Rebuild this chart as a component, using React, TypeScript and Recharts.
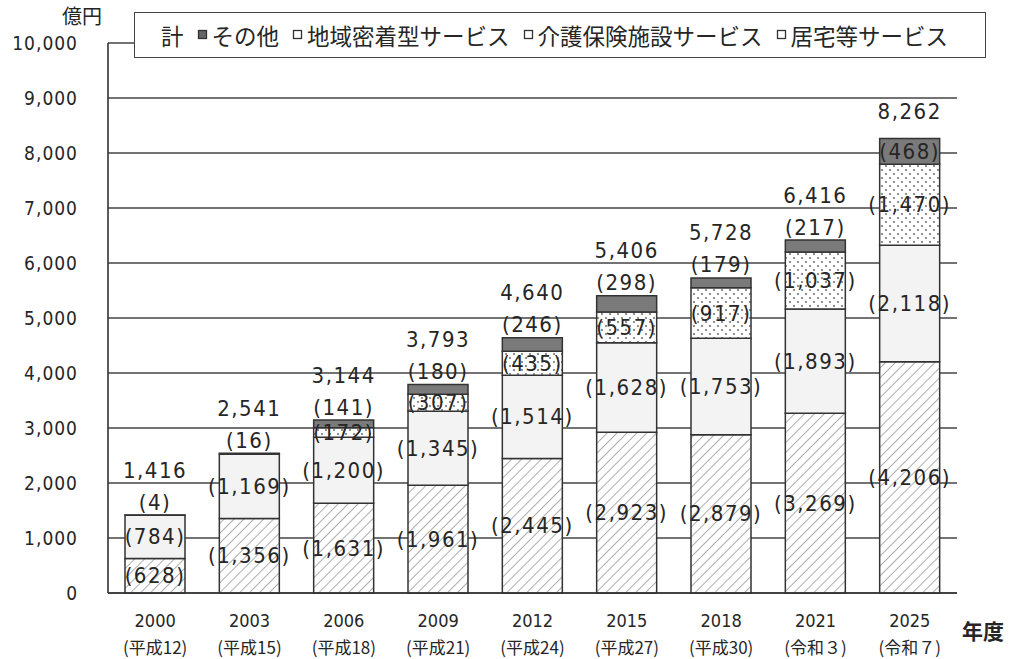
import { BarChart, Bar, XAxis, YAxis, CartesianGrid, LabelList } from "recharts";

const years = ["2000", "2003", "2006", "2009", "2012", "2015", "2018", "2021", "2025"];
const eras = ["(平成12)", "(平成15)", "(平成18)", "(平成21)", "(平成24)", "(平成27)", "(平成30)", "(令和３)", "(令和７)"];
const kyotaku = [628, 1356, 1631, 1961, 2445, 2923, 2879, 3269, 4206];
const shisetsu = [784, 1169, 1200, 1345, 1514, 1628, 1753, 1893, 2118];
const chiiki = [0, 0, 172, 307, 435, 557, 917, 1037, 1470];
const sonota = [4, 16, 141, 180, 246, 298, 179, 217, 468];
const totals = [1416, 2541, 3144, 3793, 4640, 5406, 5728, 6416, 8262];
const yTicks = [0, 1000, 2000, 3000, 4000, 5000, 6000, 7000, 8000, 9000, 10000];
const legendItems = ["その他", "地域密着型サービス", "介護保険施設サービス", "居宅等サービス"];
const legendFills = ["#666", "#fff", "#fff", "#fff"];

const data = years.map((y, i) => ({
  year: y,
  kyotaku: kyotaku[i],
  shisetsu: shisetsu[i],
  chiiki: chiiki[i],
  sonota: sonota[i],
}));

const numFont = '"DejaVu Sans Condensed", "Liberation Sans Narrow", "DejaVu Sans", sans-serif';
const jpFont = '"Noto Sans CJK JP", sans-serif';
const ink = "#262626";

const fmt = (v: number) => v.toLocaleString("en-US");

function CenterLabel(props: any) {
  const { x, y, width, height, value } = props;
  if (!value) return null;
  return (
    <text
      x={x + width / 2}
      y={y + height / 2}
      textAnchor="middle"
      dominantBaseline="central"
      fontFamily={numFont}
      fontSize={22}
      letterSpacing={1.5}
      fill={ink}
    >
      ({fmt(value)})
    </text>
  );
}

// その他 label sits above the bar when the segment is thin, total goes above that
function TopLabel(props: any) {
  const { x, y, width, height, value, index } = props;
  const inside = value > 400;
  const ly = inside ? y + height / 2 : y - 13;
  const ty = inside ? y - 27 : y - 45;
  return (
    <g fontFamily={numFont} fontSize={22} letterSpacing={1.5} fill={ink} textAnchor="middle">
      <text x={x + width / 2} y={ly} dominantBaseline="central">
        ({fmt(value)})
      </text>
      <text x={x + width / 2} y={ty} dominantBaseline="central">
        {fmt(totals[index])}
      </text>
    </g>
  );
}

function YearTick(props: any) {
  const { x, y, payload, index } = props;
  return (
    <g fill={ink} textAnchor="middle">
      <text x={x} y={y + 19} dominantBaseline="central" fontFamily={numFont} fontSize={18}>
        {payload.value}
      </text>
      <text x={x} y={y + 45} dominantBaseline="central" fontFamily={jpFont} fontSize={17}>
        {eras[index]}
      </text>
    </g>
  );
}

function LegendBox() {
  return (
    <div
      style={{
        position: "absolute",
        left: 134,
        top: 12,
        boxSizing: "border-box",
        width: 852,
        height: 46,
        border: "1.5px solid #444",
        background: "#fff",
        display: "flex",
        alignItems: "center",
        paddingLeft: 26,
        gap: 13,
        fontFamily: jpFont,
        fontSize: 22.5,
        color: ink,
        whiteSpace: "nowrap",
      }}
    >
      <span>計</span>
      {legendItems.map((name, i) => (
        <span key={name} style={{ display: "flex", alignItems: "center" }}>
          <svg width={12} height={12} style={{ marginRight: 3 }}>
            <rect x={1.5} y={1.5} width={8} height={8} fill={legendFills[i]} stroke="#333" strokeWidth={1.3} />
          </svg>
          {name}
        </span>
      ))}
    </div>
  );
}

export default function App() {
  return (
    <div style={{ position: "absolute", left: 0, top: 0, width: 1013, height: 659, background: "#fff" }}>
      <svg width={0} height={0} style={{ position: "absolute" }}>
        <defs>
          <pattern id="hatch" patternUnits="userSpaceOnUse" width={7} height={7} patternTransform="rotate(45)">
            <rect width={7} height={7} fill="#fff" />
            <line x1={0} y1={0} x2={0} y2={7} stroke="#999" strokeWidth={1.6} />
          </pattern>
          <pattern id="dots" patternUnits="userSpaceOnUse" width={8} height={8}>
            <rect width={8} height={8} fill="#fff" />
            <circle cx={2} cy={2} r={1.1} fill="#777" />
            <circle cx={6} cy={6} r={1.1} fill="#777" />
          </pattern>
        </defs>
      </svg>
      <BarChart width={1013} height={659} data={data} margin={{ top: 43, right: 56, left: 0, bottom: 0 }} barSize={60}>
        <CartesianGrid vertical={false} stroke="#444" strokeWidth={1.4} />
        <XAxis
          dataKey="year"
          height={66}
          tickLine={false}
          axisLine={{ stroke: "#333", strokeWidth: 1.6 }}
          tick={<YearTick />}
          interval={0}
        />
        <YAxis
          width={108}
          domain={[0, 10000]}
          ticks={yTicks}
          tickLine={false}
          tickSize={0}
          tickMargin={30}
          axisLine={{ stroke: "#333", strokeWidth: 1.6 }}
          tick={{ fontFamily: numFont, fontSize: 19, fill: ink, letterSpacing: 1 }}
          tickFormatter={fmt}
          interval={0}
        />
        <Bar dataKey="kyotaku" stackId="a" fill="url(#hatch)" stroke="#333" strokeWidth={1.5} isAnimationActive={false}>
          <LabelList dataKey="kyotaku" content={<CenterLabel />} />
        </Bar>
        <Bar dataKey="shisetsu" stackId="a" fill="#f3f3f3" stroke="#333" strokeWidth={1.5} isAnimationActive={false}>
          <LabelList dataKey="shisetsu" content={<CenterLabel />} />
        </Bar>
        <Bar dataKey="chiiki" stackId="a" fill="url(#dots)" stroke="#333" strokeWidth={1.5} isAnimationActive={false}>
          <LabelList dataKey="chiiki" content={<CenterLabel />} />
        </Bar>
        <Bar dataKey="sonota" stackId="a" fill="#7a7a7a" stroke="#333" strokeWidth={1.5} isAnimationActive={false}>
          <LabelList dataKey="sonota" content={<TopLabel />} />
        </Bar>
      </BarChart>
      <LegendBox />
      <span style={{ position: "absolute", left: 62, top: 3, fontFamily: jpFont, fontSize: 20, color: ink, lineHeight: "26px" }}>
        億円
      </span>
      <span style={{ position: "absolute", left: 962, top: 616, fontFamily: jpFont, fontSize: 21, fontWeight: "bold", color: ink, lineHeight: "28px" }}>
        年度
      </span>
    </div>
  );
}
